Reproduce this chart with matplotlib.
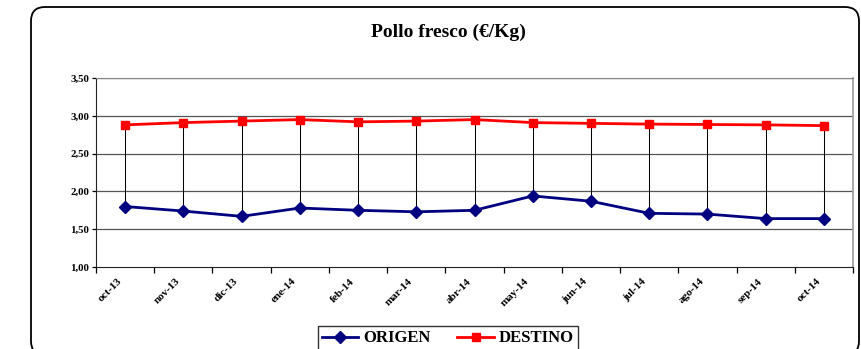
import matplotlib
matplotlib.use("Agg")
import matplotlib.pyplot as plt
import matplotlib.transforms as mtransforms
from matplotlib.patches import FancyBboxPatch

# Precio pollo fresco, origen vs destino (€/Kg)
meses = ["oct-13", "nov-13", "dic-13", "ene-14", "feb-14", "mar-14", "abr-14",
         "may-14", "jun-14", "jul-14", "ago-14", "sep-14", "oct-14"]
origen = [1.80, 1.74, 1.67, 1.78, 1.75, 1.73, 1.75, 1.94, 1.87, 1.71, 1.70, 1.64, 1.64]
destino = [2.88, 2.91, 2.93, 2.95, 2.92, 2.93, 2.95, 2.91, 2.90, 2.89, 2.885, 2.88, 2.87]
y_ticks = [1.00, 1.50, 2.00, 2.50, 3.00, 3.50]

plt.rcParams["font.family"] = ["Liberation Serif", "DejaVu Serif"]
plt.rcParams["font.weight"] = "bold"

W, H = 861, 349
fig = plt.figure(figsize=(W / 100, H / 100), dpi=100)

# marco redondeado del grafico (en pixeles, origen abajo-izquierda)
marco = FancyBboxPatch((31, H - 355), 859 - 31, 355 - 7,
                       boxstyle="round,pad=0,rounding_size=14",
                       transform=None, fill=False,
                       edgecolor="black", linewidth=1.3, clip_on=False)
fig.patches.append(marco)

ax = fig.add_axes([96 / W, 1 - 267 / H, (853 - 96) / W, (267 - 78) / H])
x = list(range(len(meses)))

# lineas maximo-minimo entre series
for xi, lo, hi in zip(x, origen, destino):
    ax.plot([xi, xi], [lo, hi], color="black", linewidth=0.75, zorder=2)

for yv in y_ticks[1:]:
    ax.axhline(yv, color="#555555", linewidth=0.9, zorder=1)

ax.plot(x, origen, color="#000080", linewidth=2.0, marker="D", markersize=6,
        label="ORIGEN", zorder=3)
ax.plot(x, destino, color="#ff0000", linewidth=2.0, marker="s", markersize=6,
        label="DESTINO", zorder=3)

ax.set_xlim(-0.5, len(meses) - 0.5)
ax.set_ylim(1.0, 3.5)

ax.set_yticks(y_ticks)
ax.set_yticklabels([f"{v:.2f}".replace(".", ",") for v in y_ticks])
ax.tick_params(axis="y", direction="out", length=3, width=0.9, labelsize=7.8, pad=2)

ax.set_xticks([i - 0.5 for i in range(len(meses) + 1)])
ax.set_xticklabels([])
ax.set_xticks(x, minor=True)
ax.set_xticklabels(meses, minor=True, rotation=45, ha="right",
                   rotation_mode="anchor", fontsize=8)
ax.tick_params(axis="x", which="major", direction="out", length=4, width=0.9)
ax.tick_params(axis="x", which="minor", length=0, pad=7)
desplaza = mtransforms.ScaledTranslation(-8 / 100, 0, fig.dpi_scale_trans)
for lbl in ax.get_xticklabels(minor=True):
    lbl.set_transform(lbl.get_transform() + desplaza)

ax.spines["left"].set_color("#222222")
ax.spines["bottom"].set_color("#222222")
ax.spines["top"].set_color("#888888")
ax.spines["right"].set_color("#999999")
ax.spines["right"].set_linewidth(1.2)

fig.text(448 / W, 1 - 32 / H, "Pollo fresco (€/Kg)", ha="center", va="center",
         fontsize=14, fontweight="bold")

leg = fig.legend(loc="upper center", bbox_to_anchor=(448 / W, 1 - 318 / H), ncol=2,
                 frameon=True, fancybox=False, edgecolor="black", fontsize=12,
                 handlelength=2.2, columnspacing=1.6, handletextpad=0.3,
                 borderpad=0.25)
leg.get_frame().set_linewidth(1.0)

fig.savefig("out.png", dpi=100)
